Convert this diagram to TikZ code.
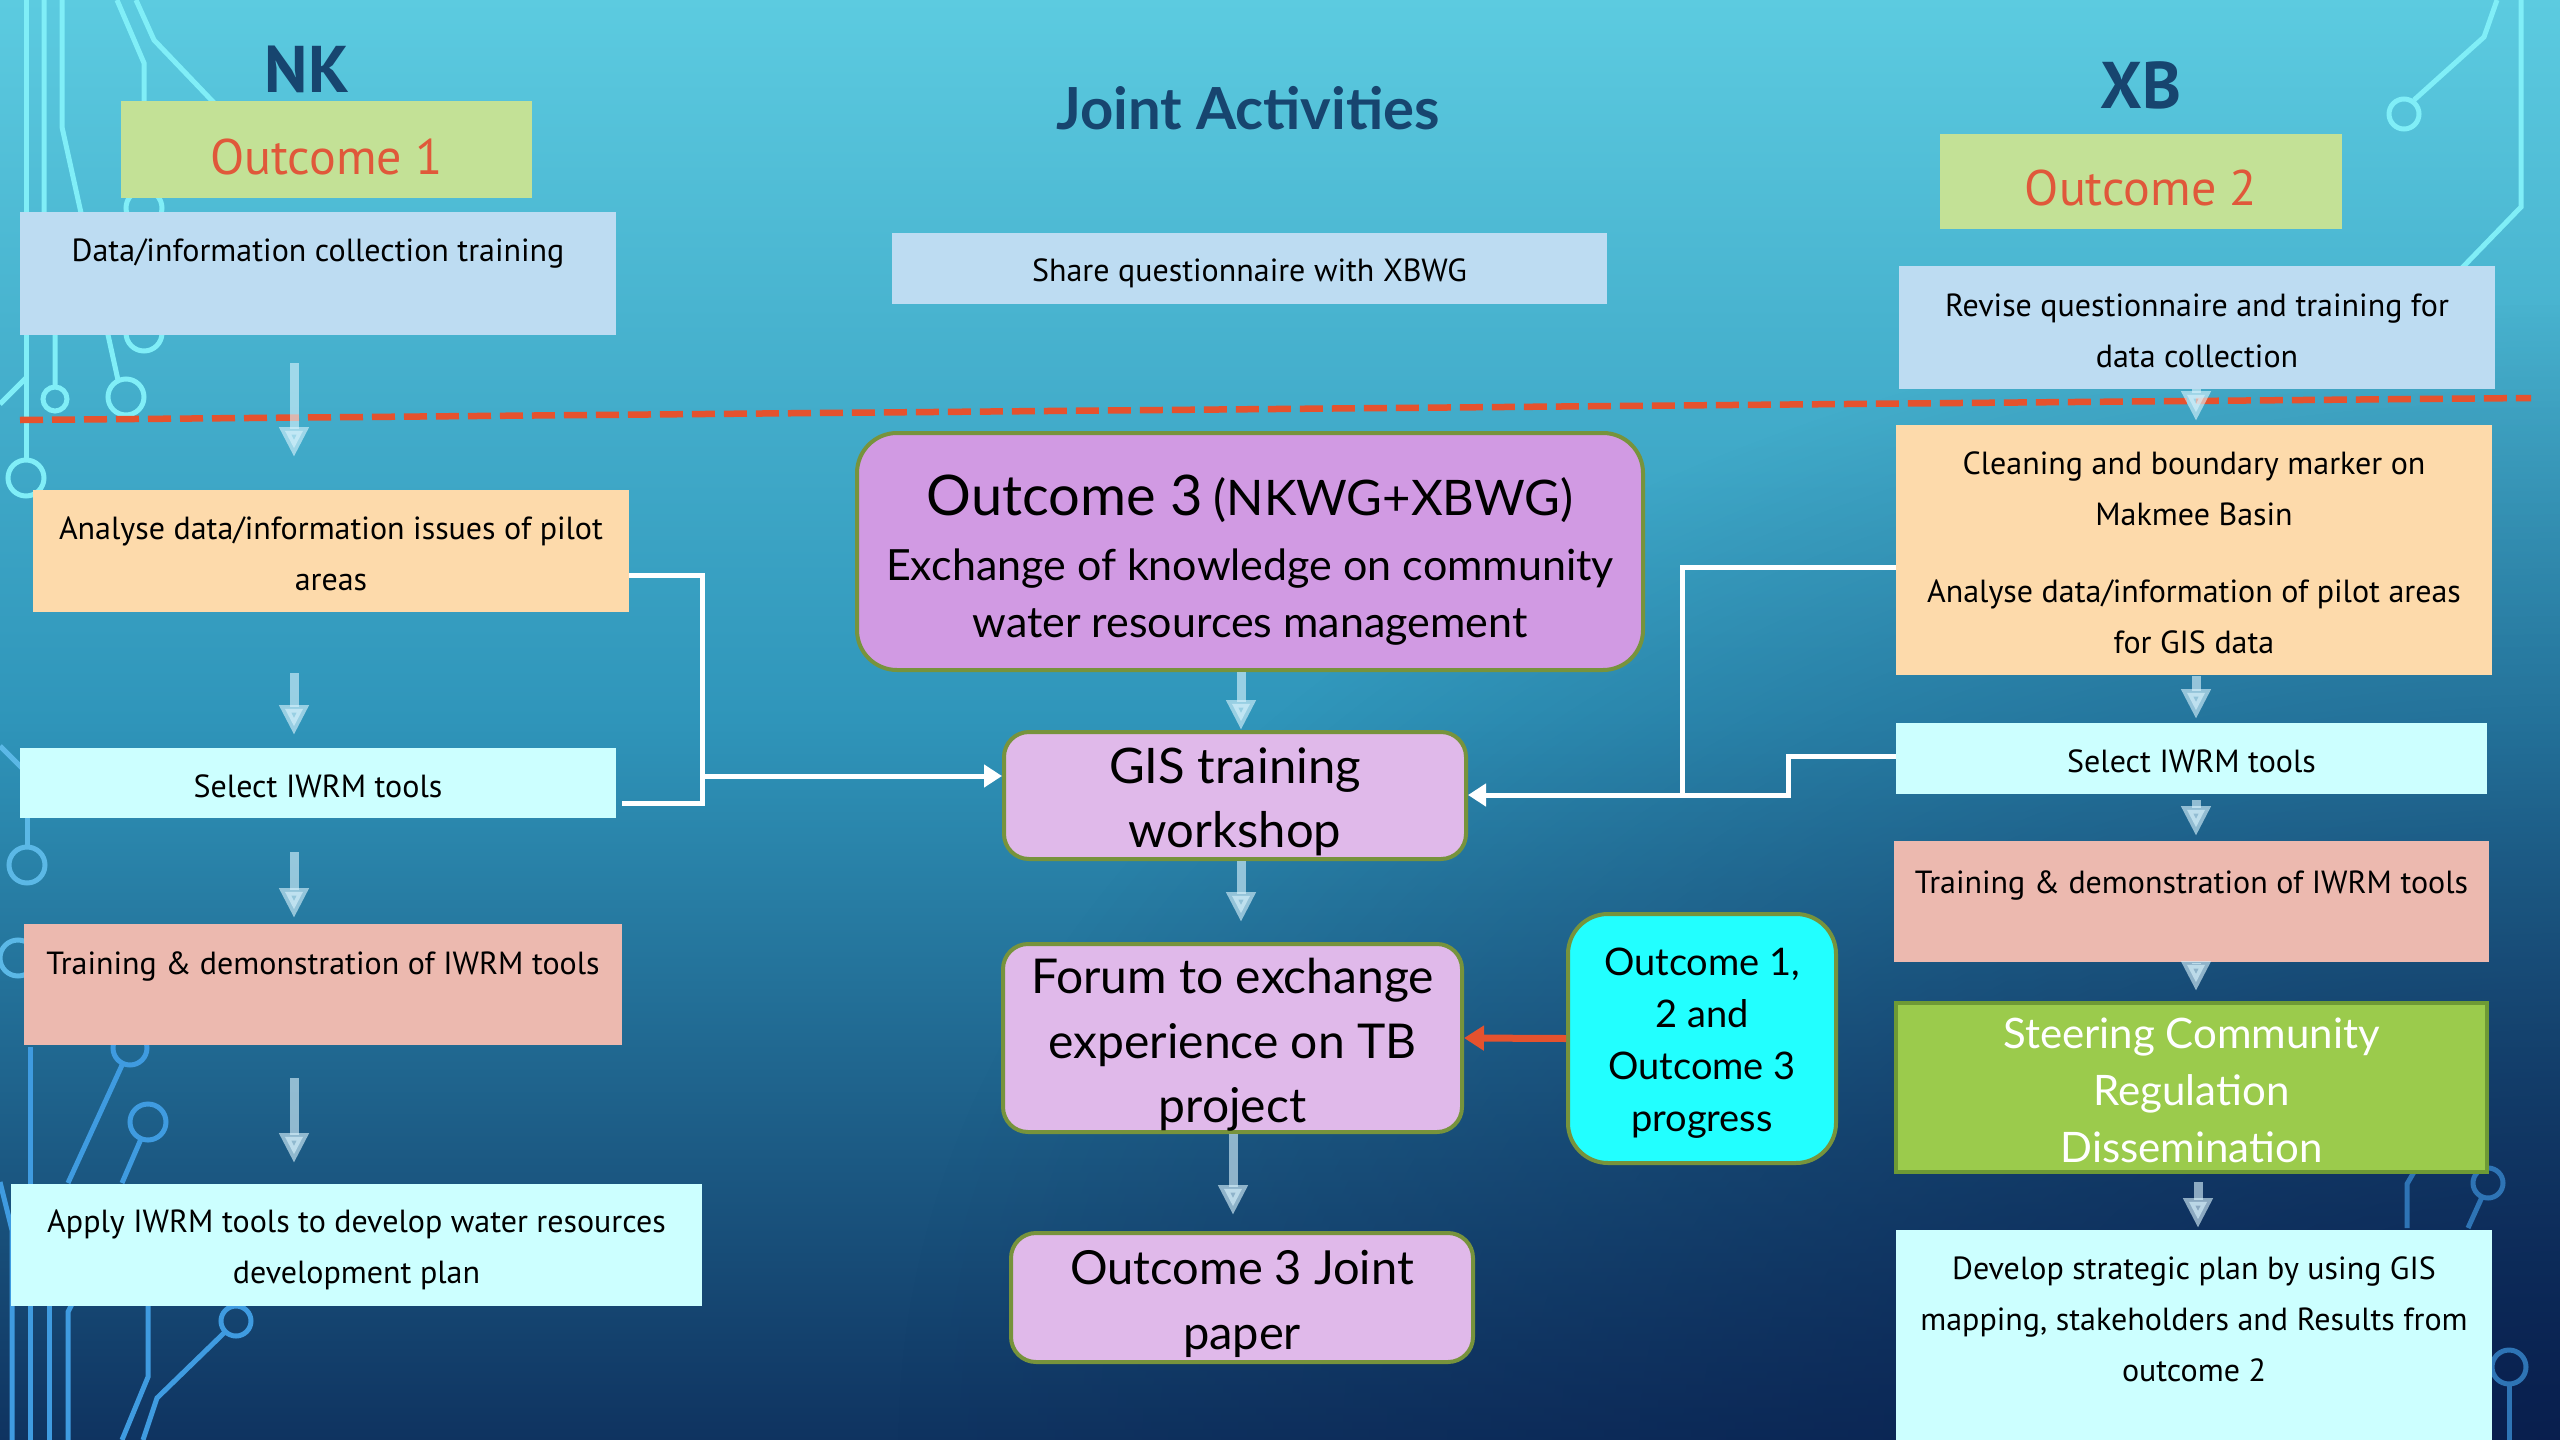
\documentclass[tikz,border=0pt]{standalone}
\usepackage{fontspec}
\setmainfont{PT Sans}
\newfontfamily\latof{Lato}
\usetikzlibrary{arrows.meta,fadings,calc}
\definecolor{bgtop}{HTML}{5CCBE0}
\definecolor{bgmid}{HTML}{2F95BA}
\definecolor{bgbot}{HTML}{0F3360}
\definecolor{bgdark}{HTML}{071848}
\definecolor{titleblue}{HTML}{17456F}
\definecolor{outgreen}{HTML}{C3E196}
\definecolor{outred}{HTML}{E0583A}
\definecolor{lblue}{HTML}{BDDCF2}
\definecolor{peach}{HTML}{FDDAAB}
\definecolor{lcyan}{HTML}{CCFFFF}
\definecolor{salmon}{HTML}{ECB9AF}
\definecolor{orchid}{HTML}{D19AE3}
\definecolor{lav}{HTML}{E0B9EA}
\definecolor{olive}{HTML}{77933C}
\definecolor{brcyan}{HTML}{22FFFF}
\definecolor{steerg}{HTML}{9BCB4C}
\definecolor{steerb}{HTML}{6E9A35}
\definecolor{redd}{HTML}{E5522E}
\definecolor{circA}{HTML}{80EEF7}
\definecolor{circB}{HTML}{5BB8E6}
\definecolor{circC}{HTML}{3F9BE0}
\definecolor{circD}{HTML}{2E74B5}
\tikzfading[name=brfade, inner color=transparent!25, outer color=transparent!100]
\begin{document}
\begin{tikzpicture}[x=1pt,y=-1pt,
  plain/.style={rectangle, inner sep=0pt, outer sep=0pt},
  rtxt/.style={inner sep=0pt, align=center, font=\fontsize{32}{51}\selectfont},
  otxt/.style={inner sep=0pt, text=outred, font=\fontsize{50}{54}\selectfont},
  title/.style={inner sep=0pt, text=titleblue, font=\bfseries\fontsize{66}{70}\selectfont},
  rbox/.style={rectangle, rounded corners=25pt, draw=olive, line width=4pt, fill=lav, inner sep=0pt},
  ltxt/.style={inner sep=0pt, align=center, font=\latof\fontsize{48}{64.5}\selectfont},
  flow/.style={line width=9pt, draw=white!85!cyan, opacity=0.62, -{Triangle[width=28pt,length=30pt]}},
  wline/.style={line width=5pt, draw=white, line join=miter},
  warr/.style={wline, -{Triangle[width=22pt,length=18pt]}},
  redarr/.style={line width=7pt, draw=redd, -{Triangle[width=24pt,length=20pt]}},
  circ/.style={line width=5pt}
]
\useasboundingbox (0,0) rectangle (2560,1440);
\begin{scope}
\clip (0,0) rectangle (2560,1440);
\shade[top color=bgtop, bottom color=bgbot, middle color=bgmid] (0,0) rectangle (2560,1440);
\fill[bgdark, path fading=brfade] (900,300) rectangle (4220,2580);
\begin{scope}[circ, draw=circA]
\draw (26,0) -- (26,460); \draw (26,478) circle[radius=18pt];
\draw (0,404) -- (26,378);
\draw (44,0) -- (44,215) -- (55,230) -- (55,387); \draw (55,399) circle[radius=12pt];
\draw (62,0) -- (62,127) -- (118,380); \draw (126,397) circle[radius=18pt];
\draw (117,0) -- (144,63) -- (144,190); \draw (144,208) circle[radius=18pt];
\draw (144,226) -- (144,315); \draw (144,333) circle[radius=18pt];
\draw (136,0) -- (154,40) -- (240,130);
\draw (2497,0) -- (2484,37) -- (2414,100); \draw (2404,114) circle[radius=15pt];
\draw (2521,0) -- (2521,207) -- (2460,270);
\end{scope}
\begin{scope}[circ, draw=circB]
\draw (0,746) -- (22,768);
\draw (27,818) -- (27,847); \draw (27,865) circle[radius=18pt];
\draw (18,958) circle[radius=18pt];
\end{scope}
\begin{scope}[circ, draw=circC]
\draw (30,1047) -- (30,1440);
\draw (0,1182) -- (12,1230) -- (12,1440);
\draw (49,1306) -- (49,1440);
\draw (68,1440) -- (68,1312) -- (74,1300);
\draw (68,1183) -- (123,1063); \draw (130,1048) circle[radius=17pt];
\draw (122,1183) -- (141,1139); \draw (148,1122) circle[radius=18pt];
\draw (148,1300) -- (148,1377) -- (122,1440);
\draw (143,1440) -- (157,1398) -- (225,1332); \draw (236,1321) circle[radius=15pt];
\end{scope}
\begin{scope}[circ, draw=circD]
\draw (2407,1228) -- (2407,1184) -- (2414,1172);
\draw (2468,1228) -- (2482,1197); \draw (2488,1183) circle[radius=15pt];
\draw (2509,1440) -- (2509,1384); \draw (2509,1367) circle[radius=17pt];
\end{scope}
\end{scope}
% dashed separator
\coordinate (dl) at (20,420);
\coordinate (dr) at (2531,398);
\draw[line width=6.5pt, redd, dash pattern=on 23pt off 9pt] (dl) -- (dr);
% titles
\node[title] (nk) at (307,69) {NK};
\node[title, font=\latof\bfseries\fontsize{58}{62}\selectfont] (joint) at (1248,108) {Joint Activities};
\node[title] (xb) at (2141,85) {XB};
% left column boxes
\node[plain, fill=outgreen, minimum width=411pt, minimum height=97pt] (o1) at (326.5,149.5) {};
\node[otxt] (o1-t) at ($(o1.center)+(0,7)$) {Outcome 1};
\node[plain, fill=lblue, minimum width=596pt, minimum height=123pt] (data) at (318,273.5) {};
\node[rtxt] (data-t) at (318,253) {Data/information collection training};
\node[plain, fill=peach, minimum width=596pt, minimum height=122pt] (analyse) at (331,551) {};
\node[rtxt] (analyse-t) at (331,554) {Analyse data/information issues of pilot\\areas};
\node[plain, fill=lcyan, minimum width=596pt, minimum height=70pt] (selL) at (318,783) {};
\node[rtxt] (selL-t) at (318,786) {Select IWRM tools};
\node[plain, fill=salmon, minimum width=598pt, minimum height=121pt] (trainL) at (323,984.5) {};
\node[rtxt] (trainL-t) at (323,966) {Training \& demonstration of IWRM tools};
\node[plain, fill=lcyan, minimum width=691pt, minimum height=122pt] (apply) at (356.5,1245) {};
\node[rtxt] (apply-t) at (356.5,1250) {Apply IWRM tools to develop water resources\\development plan};
% center column
\node[plain, fill=lblue, minimum width=715pt, minimum height=71pt] (share) at (1249.5,268.5) {};
\node[rtxt] (share-t) at (1249.5,273) {Share questionnaire with XBWG};
\node[rbox, fill=orchid, rounded corners=40pt, minimum width=786pt, minimum height=237pt] (o3) at (1250,551.5) {};
\node[ltxt, font=\latof\fontsize{43}{57}\selectfont] (o3-t) at ($(o3.center)+(0,9)$) {{\fontsize{56}{60}\selectfont Outcome 3} {\fontsize{49}{57}\selectfont (NKWG+XBWG)}\\[8pt]Exchange of knowledge on community\\water resources management};
\node[rbox, minimum width=462pt, minimum height=127pt] (gis) at (1235,795.5) {};
\node[ltxt, font=\latof\fontsize{49}{64}\selectfont] (gis-t) at ($(gis.center)+(0,6)$) {GIS training\\workshop};
\node[rbox, minimum width=459pt, minimum height=188pt] (forum) at (1232.5,1038) {};
\node[ltxt] (forum-t) at ($(forum.center)+(0,7)$) {Forum to exchange\\experience on TB\\project};
\node[rbox, minimum width=462pt, minimum height=129pt] (jpaper) at (1242,1297.5) {};
\node[ltxt, font=\latof\fontsize{47}{65}\selectfont] (jpaper-t) at ($(jpaper.center)+(0,6.5)$) {Outcome 3 Joint\\paper};
\node[rbox, fill=brcyan, rounded corners=40pt, minimum width=268pt, minimum height=249pt] (prog) at (1702,1038.5) {};
\node[ltxt, font=\latof\fontsize{38}{52}\selectfont] (prog-t) at ($(prog.center)+(0,5)$) {Outcome 1,\\2 and\\Outcome 3\\progress};
% right column
\node[plain, fill=outgreen, minimum width=402pt, minimum height=95pt] (o2) at (2141,181.5) {};
\node[otxt] (o2-t) at ($(o2.center)+(0,6.5)$) {Outcome 2};
\node[plain, fill=lblue, minimum width=596pt, minimum height=123pt] (revise) at (2197,327.5) {};
\node[rtxt] (revise-t) at (2197,330.5) {Revise questionnaire and training for\\data collection};
\node[plain, fill=peach, minimum width=596pt, minimum height=250pt] (clean) at (2194,550) {};
\node[rtxt] (clean-t) at (2194,553) {Cleaning and boundary marker on\\Makmee Basin\\[26pt]Analyse data/information of pilot areas\\for GIS data};
\node[plain, fill=lcyan, minimum width=591pt, minimum height=71pt] (selR) at (2191.5,758.5) {};
\node[rtxt] (selR-t) at (2191.5,761) {Select IWRM tools};
\node[plain, fill=salmon, minimum width=595pt, minimum height=121pt] (trainR) at (2191.5,901.5) {};
\node[rtxt] (trainR-t) at (2191.5,885) {Training \& demonstration of IWRM tools};
\node[plain, fill=steerg, draw=steerb, line width=4pt, minimum width=591pt, minimum height=169pt] (steer) at (2191.5,1087.5) {};
\node[ltxt, text=white, font=\latof\fontsize{42}{57}\selectfont] (steer-t) at ($(steer.center)+(0,3)$) {Steering Community\\Regulation\\Dissemination};
\node[plain, fill=lcyan, minimum width=596pt, minimum height=230pt] (develop) at (2194,1345) {};
\node[rtxt] (develop-t) at (2194,1319.5) {Develop strategic plan by using GIS\\mapping, stakeholders and Results from\\outcome 2};
% flow arrows
\coordinate (lx) at (294,0);
\coordinate (cx) at (1241,0);
\coordinate (cx2) at (1233,0);
\coordinate (rx) at (2196,0);
\draw[flow] ($(data.south -| lx)+(0,28)$) -- ($(analyse.north -| lx)+(0,-33)$);
\draw[flow] ($(analyse.south -| lx)+(0,61)$) -- ($(selL.north -| lx)+(0,-13)$);
\draw[flow] ($(selL.south -| lx)+(0,34)$) -- ($(trainL.north -| lx)+(0,-6)$);
\draw[flow] ($(trainL.south -| lx)+(0,33)$) -- ($(apply.north -| lx)+(0,-21)$);
\draw[flow] (o3.south -| cx) -- (gis.north -| cx);
\draw[flow] (gis.south -| cx) -- ($(forum.north -| cx)+(0,-20)$);
\draw[flow] (forum.south -| cx2) -- ($(jpaper.north -| cx2)+(0,-16)$);
\draw[flow] (revise.south -| rx) -- ($(clean.north -| rx)+(0,-4)$);
\draw[flow] ($(clean.south -| rx)+(0,1)$) -- ($(selR.north -| rx)+(0,-4)$);
\draw[flow] ($(selR.south -| rx)+(0,6)$) -- ($(trainR.north -| rx)+(0,-5)$);
\draw[flow] ($(trainR.south -| rx)+(0,1)$) -- ($(steer.north -| rx)+(0,-12)$);
\draw[flow] ($(steer.south -| rx)+(2,10)$) -- ($(develop.north -| rx)+(2,-2)$);
% white connectors
\coordinate (jL1) at (702,575);
\coordinate (jL2) at (702,803);
\coordinate (jL3) at (702,776);
\draw[wline] ($(analyse.east)+(0,24)$) -- (jL1) -- (jL2) -- ($(selL.east)+(6,20)$);
\draw[warr] (jL3) -- (gis.west |- jL3);
\coordinate (jR1) at (1682,567);
\coordinate (jR2) at (1682,795);
\coordinate (jR3) at (1788,756);
\coordinate (jR4) at (1788,795);
\draw[wline] ($(clean.west)+(0,17)$) -- (jR1) -- (jR2);
\draw[wline] ($(selR.west)+(0,-2.5)$) -- (jR3) -- (jR4) -- (jR2);
\draw[warr] (jR2) -- (gis.east |- jR2);
% red arrow
\draw[redarr] (prog.west) -- (forum.east);
\end{tikzpicture}
\end{document}
